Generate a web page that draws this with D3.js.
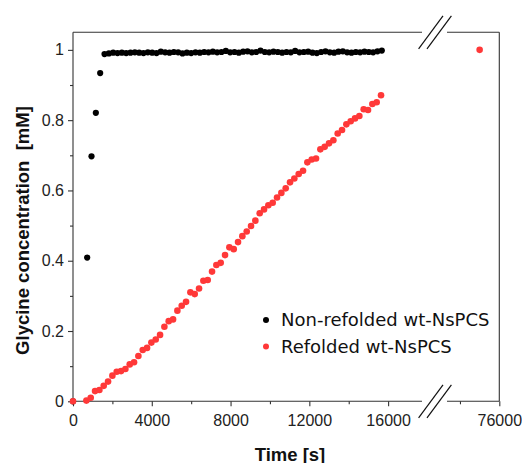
<!DOCTYPE html>
<html>
<head>
<meta charset="utf-8">
<script src="https://cdn.jsdelivr.net/npm/d3@7"></script>
<style>
  html, body { margin: 0; padding: 0; background: #fff; }
  svg { display: block; }
</style>
</head>
<body>
<svg id="chart" width="522" height="463"></svg>
<script>
// ---------- DATA ----------
const seriesNames = ["Non-refolded wt-NsPCS", "Refolded wt-NsPCS"];
const seriesColors = ["#000000", "#ff3838"];

const blackTimes = [0, 720, 940, 1160, 1380, 1600, 1820, 2040, 2260, 2480, 2700, 2920, 3140, 3360, 3580, 3800,
  4020, 4240, 4460, 4680, 4900, 5120, 5340, 5560, 5780, 6000, 6220, 6440, 6660, 6880, 7100, 7320, 7540, 7760,
  7980, 8200, 8420, 8640, 8860, 9080, 9300, 9520, 9740, 9960, 10180, 10400, 10620, 10840, 11060, 11280, 11500,
  11720, 11940, 12160, 12380, 12600, 12820, 13040, 13260, 13480, 13700, 13920, 14140, 14360, 14580, 14800,
  15020, 15240, 15460, 15680];
const blackValues = [0, 0.409, 0.697, 0.821, 0.934, 0.988,
  0.990, 0.992, 0.991, 0.992, 0.991, 0.992, 0.993, 0.992, 0.991, 0.993,
  0.992, 0.991, 0.995, 0.993, 0.992, 0.994, 0.993, 0.990, 0.992, 0.991,
  0.993, 0.992, 0.994, 0.993, 0.995, 0.993, 0.994, 0.997, 0.993, 0.994,
  0.992, 0.995, 0.996, 0.993, 0.994, 0.998, 0.994, 0.993, 0.995, 0.994,
  0.992, 0.994, 0.993, 0.997, 0.993, 0.994, 0.995, 0.992, 0.991, 0.994,
  0.996, 0.993, 0.992, 0.995, 0.996, 0.993, 0.992, 0.994, 0.993, 0.995,
  0.994, 0.993, 0.996, 0.998];

const redTimes = [0, 680, 900, 1120, 1340, 1560, 1780, 2000, 2220, 2440, 2660, 2880, 3100, 3320, 3540, 3760,
  3980, 4200, 4420, 4640, 4860, 5080, 5300, 5520, 5740, 5960, 6180, 6400, 6620, 6840, 7060, 7280, 7500, 7720,
  7940, 8160, 8380, 8600, 8820, 9040, 9260, 9480, 9700, 9920, 10140, 10360, 10580, 10800, 11020, 11240, 11460,
  11680, 11900, 12120, 12340, 12560, 12780, 13000, 13220, 13440, 13660, 13880, 14100, 14320, 14540, 14760,
  14980, 15200, 15420, 15640];
const redValues = [0, 0.002, 0.010, 0.029, 0.032, 0.044, 0.056, 0.073, 0.084, 0.086, 0.092, 0.105, 0.111,
  0.129, 0.146, 0.152, 0.167, 0.176, 0.189, 0.212, 0.228, 0.233, 0.258, 0.272, 0.283, 0.310, 0.305, 0.321,
  0.343, 0.345, 0.369, 0.388, 0.394, 0.416, 0.438, 0.433, 0.453, 0.470, 0.483, 0.499, 0.514, 0.535, 0.546,
  0.558, 0.565, 0.580, 0.593, 0.606, 0.623, 0.634, 0.647, 0.656, 0.680, 0.688, 0.691, 0.717, 0.724, 0.734,
  0.743, 0.762, 0.772, 0.788, 0.797, 0.805, 0.812, 0.831, 0.829, 0.846, 0.851, 0.871];
// point after the axis break
const redLateTimes = [75000];
const redLateValues = [1.0];

const xTicksLeft = [0, 4000, 8000, 12000, 16000];
const xMinorLeft = [2000, 6000, 10000, 14000];
const xTicksRight = [76000];
const xMinorRight = [74000];
const yTicks = [0, 0.2, 0.4, 0.6, 0.8, 1];
const yMinor = [0.1, 0.3, 0.5, 0.7, 0.9];
const xTitle = "Time [s]";
const yTitle = "Glycine concentration\u00A0\u00A0[mM]";

// ---------- LAYOUT ----------
const svg = d3.select("#chart");
const pLeft = 73, pRight = 499.3, pTop = 32.3, pBottom = 401.3;
const breakX = 435;      // centre of axis break
const gapL = 422, gapR = 447;

const xL = d3.scaleLinear().domain([0, 18000]).range([pLeft, 427.5]);
const xR = d3.scaleLinear().domain([73000, 76000]).range([440.3, pRight]);
const y = d3.scaleLinear().domain([0, 1.05]).range([pBottom, pTop]);

const axisColor = "#333";
const tickFont = "'Liberation Sans', Arial, sans-serif";

// frame
const frame = svg.append("g").attr("stroke", axisColor).attr("stroke-width", 1.1).attr("fill", "none");
frame.append("line").attr("x1", pLeft).attr("x2", pLeft).attr("y1", pTop).attr("y2", pBottom);
frame.append("line").attr("x1", pRight).attr("x2", pRight).attr("y1", pTop).attr("y2", pBottom);
[pTop, pBottom].forEach(yy => {
  frame.append("line").attr("x1", pLeft).attr("x2", gapL).attr("y1", yy).attr("y2", yy);
  frame.append("line").attr("x1", gapR).attr("x2", pRight).attr("y1", yy).attr("y2", yy);
});

// break slashes
const slash = svg.append("g").attr("stroke", "#111").attr("stroke-width", 1.2);
[pTop, pBottom].forEach(yy => {
  [-4.2, 4.2].forEach(off => {
    slash.append("line")
      .attr("x1", breakX + off - 12.2).attr("y1", yy + 16.5)
      .attr("x2", breakX + off + 12.2).attr("y2", yy - 16.5);
  });
});

function styleAxis(g) {
  g.select(".domain").remove();
  g.selectAll(".tick line").attr("stroke", axisColor).attr("stroke-width", 1.1);
  g.selectAll(".tick text").attr("font-family", tickFont).attr("font-size", 16).attr("fill", "#222");
}

// x axes
svg.append("g").attr("transform", `translate(0,${pBottom})`)
  .call(d3.axisBottom(xL).tickValues(xTicksLeft).tickSize(5).tickPadding(8).tickFormat(d3.format("d")))
  .call(styleAxis);
svg.append("g").attr("transform", `translate(0,${pBottom})`)
  .call(d3.axisBottom(xL).tickValues(xMinorLeft).tickSize(3).tickFormat(""))
  .call(styleAxis);
svg.append("g").attr("transform", `translate(0,${pBottom})`)
  .call(d3.axisBottom(xR).tickValues(xTicksRight).tickSize(5).tickPadding(8).tickFormat(d3.format("d")))
  .call(styleAxis);
svg.append("g").attr("transform", `translate(0,${pBottom})`)
  .call(d3.axisBottom(xR).tickValues(xMinorRight).tickSize(3).tickFormat(""))
  .call(styleAxis);

// y axis
svg.append("g").attr("transform", `translate(${pLeft},0)`)
  .call(d3.axisLeft(y).tickValues(yTicks).tickSize(5).tickPadding(4).tickFormat(d => d3.format("~g")(d)))
  .call(styleAxis);
svg.append("g").attr("transform", `translate(${pLeft},0)`)
  .call(d3.axisLeft(y).tickValues(yMinor).tickSize(3).tickFormat(""))
  .call(styleAxis);

// titles
const titleFont = "'Liberation Sans', Arial, sans-serif";
svg.append("text").attr("x", 290).attr("y", 460.5).attr("text-anchor", "middle")
  .attr("font-family", titleFont).attr("font-weight", "bold").attr("font-size", 18.5).attr("fill", "#111")
  .text(xTitle);
svg.append("text").attr("transform", "translate(29,230.5) rotate(-90)").attr("text-anchor", "middle")
  .attr("font-family", titleFont).attr("font-weight", "bold").attr("font-size", 18.5).attr("fill", "#111")
  .text(yTitle);

// data
const blackData = blackTimes.map((t, i) => ({ t, v: blackValues[i] }));
const redData = redTimes.map((t, i) => ({ t, v: redValues[i] }));
const redLate = redLateTimes.map((t, i) => ({ t, v: redLateValues[i] }));

svg.append("g").selectAll("circle").data(blackData).join("circle")
  .attr("cx", d => xL(d.t)).attr("cy", d => y(d.v)).attr("r", 3.1).attr("fill", seriesColors[0]);
svg.append("g").selectAll("circle").data(redData).join("circle")
  .attr("cx", d => xL(d.t)).attr("cy", d => y(d.v)).attr("r", 3.3).attr("fill", seriesColors[1]);
svg.append("g").selectAll("circle").data(redLate).join("circle")
  .attr("cx", d => xR(d.t)).attr("cy", d => y(d.v)).attr("r", 3.3).attr("fill", seriesColors[1]);

// legend
const legend = svg.append("g");
seriesNames.forEach((name, i) => {
  const ly = 320 + i * 26.5;
  legend.append("circle").attr("cx", 266).attr("cy", ly).attr("r", 3).attr("fill", seriesColors[i]);
  legend.append("text").attr("x", 281).attr("y", ly + 6.2)
    .attr("font-family", "'DejaVu Sans', sans-serif").attr("font-size", 18).attr("fill", "#111")
    .text(name);
});
</script>
</body>
</html>
